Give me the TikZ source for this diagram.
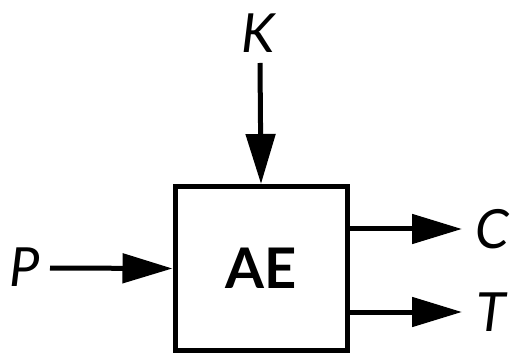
\documentclass[tikz,border=0pt]{standalone}
\usepackage{fontspec}
\setmainfont{Lato}
\usetikzlibrary{arrows.meta}

\begin{document}
\begin{tikzpicture}[x=1pt,y=1pt,
    arr/.style={line width=5pt,-{Triangle[length=50pt,width=29pt]}},
    lbl/.style={font=\fontsize{54}{54}\selectfont\itshape,inner sep=0pt}]
    \useasboundingbox (0,0) rectangle (510,353);

    % Блок AE
    \node[draw,line width=5pt,minimum width=172pt,minimum height=164pt,
          font=\fontsize{56}{56}\selectfont\bfseries] (ae) at (261,84.5) {AE};

    % Кінці стрілок
    \coordinate (ktop) at (260,290);
    \coordinate (pleft) at (50,85);
    \coordinate (cend) at (462,124);
    \coordinate (tend) at (462,41);

    \node[lbl] (lk) at (258,320) {K};
    \node[lbl] (lp) at (25,86) {P};
    \node[lbl] (lc) at (492,124) {C};
    \node[lbl] (lt) at (491,41) {T};

    \draw[arr] (ktop) -- (ae.north);
    \draw[arr] (pleft) -- (ae.west);
    \draw[arr] (ae.east |- cend) -- (cend);
    \draw[arr] (ae.east |- tend) -- (tend);
\end{tikzpicture}
\end{document}
